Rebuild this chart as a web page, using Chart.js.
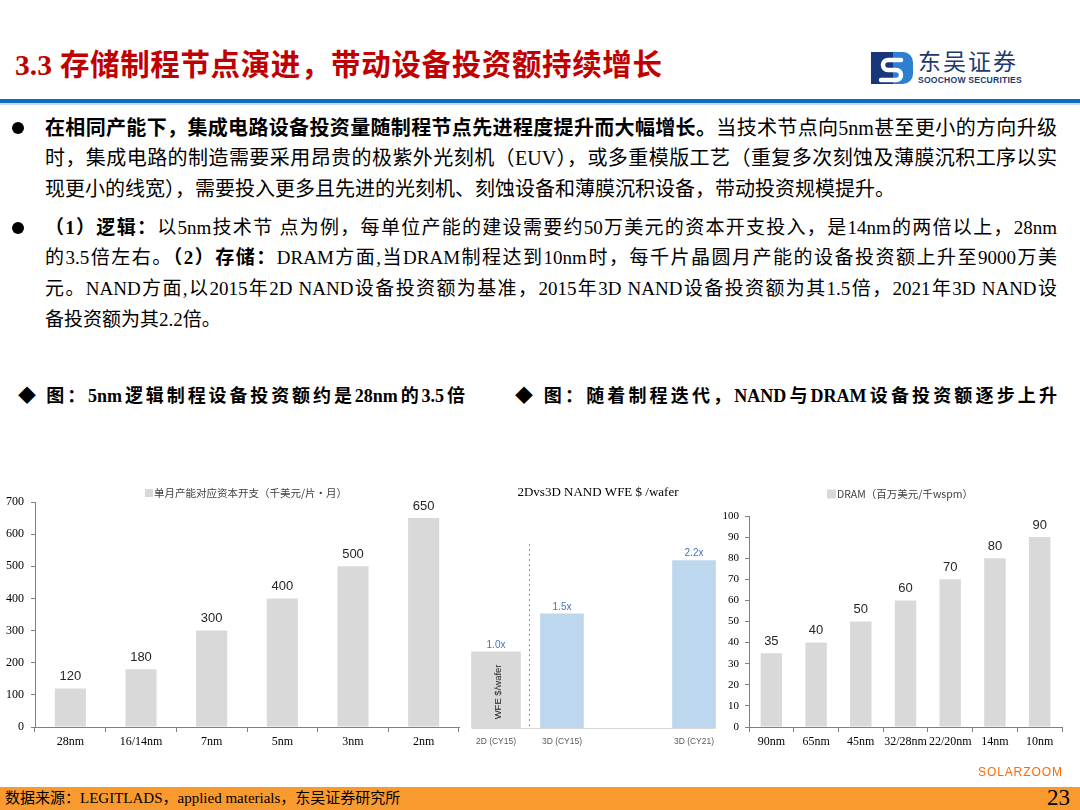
<!DOCTYPE html>
<html>
<head>
<meta charset="utf-8">
<script src="https://cdn.jsdelivr.net/npm/chart.js@4.4.0/dist/chart.umd.min.js"></script>
<style>
  html, body { margin:0; padding:0; background:#fff; }
  body { width:1080px; height:810px; position:relative; overflow:hidden;
         font-family:"Liberation Serif","Noto Sans CJK SC",serif; color:#000; }
  .abs { position:absolute; }
  .title { left:15px; top:44px; width:647px; height:42px; line-height:42px; font-size:29.5px; font-weight:bold;
           color:#c00000; text-align:justify; text-align-last:justify; white-space:nowrap; }
  .blue { left:0; top:99px; width:1080px; height:4px; background:#0a6fc2; }
  .blue2 { left:0; top:103px; width:1080px; height:2px; background:#cfd8e3; }
  .line { left:45px; width:1012px; height:30px; line-height:30px; white-space:nowrap; }
  .j { text-align:justify; text-align-last:justify; }
  .p1 { font-size:20px; }
  .p2 { font-size:19px; }
  .dot { left:12px; width:12px; height:12px; border-radius:50%; background:#000; }
  .cap { top:381px; height:30px; line-height:30px; font-size:18px; font-weight:bold; white-space:nowrap;
         text-align:justify; text-align-last:justify; }
  .footer { left:0; top:787px; width:1080px; height:23px; background:#f99a2f; }
  .src { left:5px; top:787px; height:23px; line-height:23px; font-size:15px; white-space:nowrap; }
  .page { right:10px; top:784px; height:28px; line-height:28px; font-size:23px; }
  .solar { left:978px; top:765px; font-family:"Liberation Sans",sans-serif; font-size:12px; color:#ff6a00; letter-spacing:0.9px; }
  .logo-cn { left:918px; top:47px; font-family:"Noto Sans CJK SC",sans-serif; font-size:23px; line-height:26px;
             color:#1c3a6e; letter-spacing:2px; white-space:nowrap; }
  .logo-en { left:918px; top:75px; font-family:"Liberation Sans",sans-serif; font-weight:bold; font-size:8.6px;
             color:#1c3a6e; white-space:nowrap; letter-spacing:0.2px; }
  canvas { position:absolute; }
</style>
</head>
<body>
<div class="abs title">3.3 存储制程节点演进，带动设备投资额持续增长</div>
<svg class="abs" style="left:871px;top:52px" width="42" height="32" viewBox="0 0 42 32">
  <rect x="0" y="0" width="30" height="32" fill="#17377a"/>
  <path d="M22 0 H32 A10 10 0 0 1 42 10 V22 A10 10 0 0 1 32 32 H22 Z" fill="#2f7fd0"/>
  <path d="M30 8 H17 A5 5 0 0 0 17 18 H25 A5 5 0 0 1 25 28 H10" stroke="#fff" stroke-width="4.5" fill="none" stroke-linecap="round"/>
</svg>
<div class="abs logo-cn">东吴证券</div>
<div class="abs logo-en">SOOCHOW SECURITIES</div>
<div class="abs blue"></div>
<div class="abs blue2"></div>

<div class="abs dot" style="top:122px"></div>
<div class="abs line p1 j" style="top:113px"><b>在相同产能下，集成电路设备投资量随制程节点先进程度提升而大幅增长。</b>当技术节点向5nm甚至更小的方向升级</div>
<div class="abs line p1 j" style="top:143px">时，集成电路的制造需要采用昂贵的极紫外光刻机（EUV），或多重模版工艺（重复多次刻蚀及薄膜沉积工序以实</div>
<div class="abs line p1" style="top:174px">现更小的线宽），需要投入更多且先进的光刻机、刻蚀设备和薄膜沉积设备，带动投资规模提升。</div>

<div class="abs dot" style="top:222px"></div>
<div class="abs line p2 j" style="top:213px"><b>（1）逻辑：</b>以5nm技术节 点为例，每单位产能的建设需要约50万美元的资本开支投入，是14nm的两倍以上，28nm</div>
<div class="abs line p2 j" style="top:243px">的3.5倍左右。<b>（2）存储：</b>DRAM方面,当DRAM制程达到10nm时，每千片晶圆月产能的设备投资额上升至9000万美</div>
<div class="abs line p2 j" style="top:274px">元。NAND方面,以2015年2D NAND设备投资额为基准，2015年3D NAND设备投资额为其1.5倍，2021年3D NAND设</div>
<div class="abs line p2" style="top:305px">备投资额为其2.2倍。</div>

<div class="abs cap" style="left:18px;width:447px">◆ 图：5nm逻辑制程设备投资额约是28nm的3.5倍</div>
<div class="abs cap" style="left:515px;width:542px">◆ 图：随着制程迭代，NAND与DRAM设备投资额逐步上升</div>

<canvas id="c1" width="465" height="280" style="left:0;top:480px;width:465px;height:280px"></canvas>
<canvas id="c2" width="280" height="280" style="left:460px;top:480px;width:280px;height:280px"></canvas>
<canvas id="c3" width="365" height="280" style="left:715px;top:480px;width:365px;height:280px"></canvas>

<div class="abs solar">SOLARZOOM</div>
<div class="abs footer"></div>
<div class="abs src">数据来源：LEGITLADS，applied materials，东吴证券研究所</div>
<div class="abs page">23</div>

<script>
// ---------- data ----------
const logicNodes = ['28nm', '16/14nm', '7nm', '5nm', '3nm', '2nm'];
const logicCapex = [120, 180, 300, 400, 500, 650];
const logicLegend = '单月产能对应资本开支（千美元/片·月）';

const nandLabels = ['2D (CY15)', '3D (CY15)', '', '3D (CY21)'];
const nand2D = [1.0, null, null, null];
const nand3D = [null, 1.5, null, 2.2];
const nandTitle = '2Dvs3D NAND WFE $ /wafer';
const nandBarText = 'WFE $/wafer';

const dramNodes = ['90nm', '65nm', '45nm', '32/28nm', '22/20nm', '14nm', '10nm'];
const dramCapex = [35, 40, 50, 60, 70, 80, 90];
const dramLegend = 'DRAM（百万美元/千wspm）';

// ---------- shared ----------
Chart.defaults.animation = false;
Chart.defaults.responsive = false;
Chart.defaults.devicePixelRatio = 1;
Chart.defaults.plugins.legend.display = false;
Chart.defaults.plugins.tooltip.enabled = false;

const AXIS = '#808080';
const SERIF = 'Liberation Serif';
const CJK = '"Noto Sans CJK SC"';

const valueLabels = {
  id: 'valueLabels',
  afterDatasetsDraw(chart, args, o) {
    if (!o || !o.show) return;
    const ctx = chart.ctx;
    ctx.save();
    ctx.font = o.font;
    ctx.fillStyle = o.color;
    ctx.textAlign = 'center';
    ctx.textBaseline = 'middle';
    chart.data.datasets.forEach((ds, di) => {
      const meta = chart.getDatasetMeta(di);
      meta.data.forEach((el, i) => {
        const v = ds.data[i];
        if (v === null || v === undefined) return;
        ctx.fillText(o.fmt ? o.fmt(v) : String(v), el.x, el.y - o.gap);
      });
    });
    ctx.restore();
  }
};

const legendBox = {
  id: 'legendBox',
  afterDraw(chart, args, o) {
    if (!o || !o.text) return;
    const ctx = chart.ctx;
    ctx.save();
    ctx.fillStyle = o.boxColor;
    ctx.fillRect(o.x, o.y - o.box / 2, o.box, o.box);
    ctx.font = o.font;
    ctx.fillStyle = o.color;
    ctx.textAlign = 'left';
    ctx.textBaseline = 'middle';
    ctx.fillText(o.text, o.x + o.box + 1, o.y);
    ctx.restore();
  }
};

Chart.register(valueLabels, legendBox);

function fixWidth(w) { return s => { s.width = w; }; }
function fixHeight(h) { return s => { s.height = h; }; }

// ---------- chart 1: logic ----------
new Chart(document.getElementById('c1'), {
  type: 'bar',
  data: {
    labels: logicNodes,
    datasets: [{ label: logicLegend, data: logicCapex, backgroundColor: '#d9d9d9',
                 categoryPercentage: 1, barPercentage: 0.44 }]
  },
  options: {
    layout: { padding: { left: 0, right: 6, top: 22, bottom: 0 } },
    scales: {
      x: {
        afterFit: fixHeight(33),
        grid: { display: true, drawOnChartArea: false, drawTicks: true, tickLength: 5, color: AXIS, offset: true },
        border: { display: true, color: AXIS },
        ticks: { font: { family: SERIF, size: 12 }, color: '#000', padding: 3, maxRotation: 0, autoSkip: false }
      },
      y: {
        min: 0, max: 700,
        afterFit: fixWidth(35),
        grid: { display: true, drawOnChartArea: false, drawTicks: true, tickLength: 4, color: AXIS },
        border: { display: true, color: AXIS },
        ticks: { stepSize: 100, font: { family: SERIF, size: 12 }, color: '#000', padding: 7 }
      }
    },
    plugins: {
      valueLabels: { show: true, font: '13px "Liberation Sans"', color: '#262626', gap: 12 },
      legendBox: { text: logicLegend, x: 145, y: 13, box: 8, boxColor: '#d9d9d9',
                   font: '10.5px ' + CJK, color: '#404040' }
    }
  }
});

// ---------- chart 2: NAND ----------
const nandExtras = {
  id: 'nandExtras',
  beforeDatasetsDraw(chart) {
    const ctx = chart.ctx;
    const xs = chart.scales.x;
    const area = chart.chartArea;
    const m0 = chart.getDatasetMeta(0).data[0];
    const m1 = chart.getDatasetMeta(1).data[3];
    ctx.save();
    ctx.strokeStyle = '#d9d9d9';
    ctx.lineWidth = 1;
    ctx.beginPath();
    ctx.moveTo(m0.x - m0.width / 2, area.bottom + 0.5);
    ctx.lineTo(m1.x + m1.width / 2, area.bottom + 0.5);
    ctx.stroke();
    const sx = Math.round((xs.getPixelForValue(0) + xs.getPixelForValue(1)) / 2) + 0.5;
    ctx.strokeStyle = '#a77be0';
    ctx.setLineDash([2, 3]);
    ctx.beginPath();
    ctx.moveTo(sx, 64);
    ctx.lineTo(sx, area.bottom);
    ctx.stroke();
    ctx.restore();
  },
  afterDraw(chart) {
    const ctx = chart.ctx;
    const m0 = chart.getDatasetMeta(0).data[0];
    ctx.save();
    ctx.font = '13px "Liberation Serif"';
    ctx.fillStyle = '#000';
    ctx.textAlign = 'center';
    ctx.textBaseline = 'middle';
    ctx.fillText(nandTitle, 138, 13);
    ctx.translate(m0.x + 2, (m0.y + chart.chartArea.bottom) / 2 + 2);
    ctx.rotate(-Math.PI / 2);
    ctx.font = '9.5px "Liberation Sans"';
    ctx.fillStyle = '#262626';
    ctx.fillText(nandBarText, 0, 0);
    ctx.restore();
  }
};

new Chart(document.getElementById('c2'), {
  type: 'bar',
  data: {
    labels: nandLabels,
    datasets: [
      { label: '2D', data: nand2D, backgroundColor: '#d9d9d9', barThickness: 49, grouped: false },
      { label: '3D', data: nand3D, backgroundColor: '#bdd7ee', barThickness: 43, grouped: false }
    ]
  },
  options: {
    layout: { padding: { left: 3, right: 13, top: 50, bottom: 0 } },
    scales: {
      x: {
        afterFit: fixHeight(32),
        grid: { display: false, drawTicks: false },
        border: { display: false },
        ticks: { font: { family: 'Liberation Sans', size: 8.5 }, color: '#595959', padding: 9, maxRotation: 0, autoSkip: false }
      },
      y: { display: false, min: 0, max: 2.6 }
    },
    plugins: {
      valueLabels: { show: true, font: '10px "Liberation Sans"', color: '#4472c4', gap: 7,
                     fmt: v => v.toFixed(1) + 'x' }
    }
  },
  plugins: [nandExtras]
});

// ---------- chart 3: DRAM ----------
new Chart(document.getElementById('c3'), {
  type: 'bar',
  data: {
    labels: dramNodes,
    datasets: [{ label: dramLegend, data: dramCapex, backgroundColor: '#d9d9d9',
                 categoryPercentage: 1, barPercentage: 0.48 }]
  },
  options: {
    layout: { padding: { left: 0, right: 18, top: 36, bottom: 0 } },
    scales: {
      x: {
        afterFit: fixHeight(33),
        grid: { display: true, drawOnChartArea: false, drawTicks: true, tickLength: 5, color: AXIS, offset: true },
        border: { display: true, color: AXIS },
        ticks: { font: { family: SERIF, size: 12 }, color: '#000', padding: 3, maxRotation: 0, autoSkip: false }
      },
      y: {
        min: 0, max: 100,
        afterFit: fixWidth(34),
        grid: { display: true, drawOnChartArea: false, drawTicks: true, tickLength: 4, color: AXIS },
        border: { display: true, color: AXIS },
        ticks: { stepSize: 10, font: { family: SERIF, size: 11 }, color: '#000', padding: 6 }
      }
    },
    plugins: {
      valueLabels: { show: true, font: '13px "Liberation Sans"', color: '#262626', gap: 12 },
      legendBox: { text: dramLegend, x: 112, y: 14, box: 9, boxColor: '#d9d9d9',
                   font: '10.5px ' + CJK, color: '#404040' }
    }
  }
});
</script>
</body>
</html>
